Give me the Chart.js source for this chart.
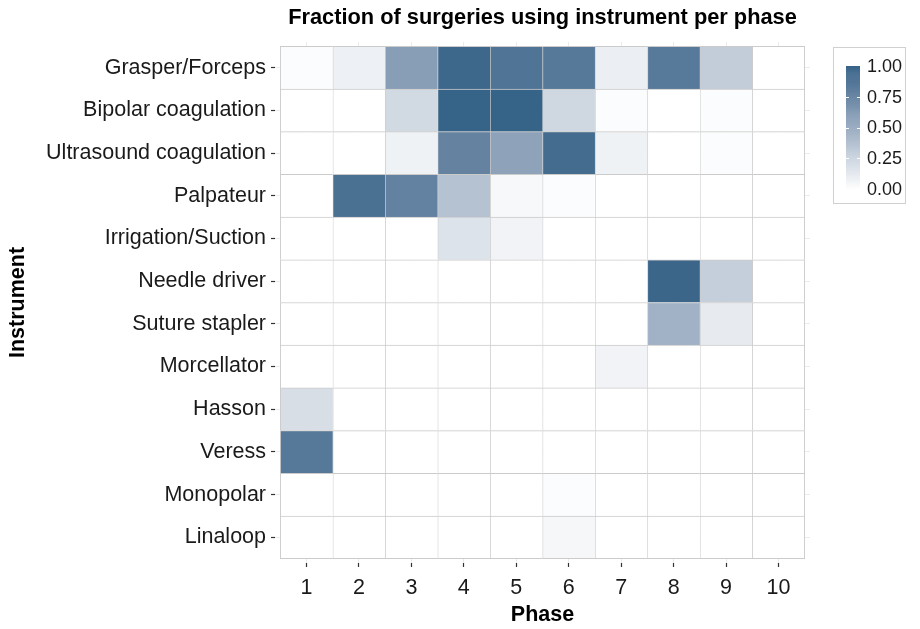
<!DOCTYPE html>
<html>
<head>
<meta charset="utf-8">
<script src="https://cdn.jsdelivr.net/npm/chart.js@4.4.1/dist/chart.umd.min.js"></script>
<style>
  html, body { margin: 0; padding: 0; background: #ffffff; }
  #wrap { width: 920px; height: 629px; position: relative; }
</style>
</head>
<body>
<div id="wrap"><canvas id="c" width="920" height="629"></canvas></div>
<script>
// ---------------- data ----------------
const chartTitle = 'Fraction of surgeries using instrument per phase';
const phases = [1, 2, 3, 4, 5, 6, 7, 8, 9, 10];
const instruments = [
  'Grasper/Forceps', 'Bipolar coagulation', 'Ultrasound coagulation', 'Palpateur',
  'Irrigation/Suction', 'Needle driver', 'Suture stapler', 'Morcellator',
  'Hasson', 'Veress', 'Monopolar', 'Linaloop'
];
// fraction of surgeries using the instrument, per phase 1..10
const grasperForceps        = [0.02, 0.09, 0.60, 0.97, 0.88, 0.85, 0.10, 0.84, 0.30, 0.00];
const bipolarCoagulation    = [0.00, 0.00, 0.23, 1.00, 1.00, 0.24, 0.02, 0.00, 0.02, 0.00];
const ultrasoundCoagulation = [0.00, 0.00, 0.08, 0.78, 0.57, 0.94, 0.08, 0.00, 0.02, 0.00];
const palpateur             = [0.00, 0.91, 0.79, 0.37, 0.04, 0.02, 0.00, 0.00, 0.00, 0.00];
const irrigationSuction     = [0.00, 0.00, 0.00, 0.17, 0.07, 0.00, 0.00, 0.00, 0.00, 0.00];
const needleDriver          = [0.00, 0.00, 0.00, 0.00, 0.00, 0.00, 0.00, 0.98, 0.29, 0.00];
const sutureStapler         = [0.00, 0.00, 0.00, 0.00, 0.00, 0.00, 0.00, 0.47, 0.12, 0.00];
const morcellator           = [0.00, 0.00, 0.00, 0.00, 0.00, 0.00, 0.07, 0.00, 0.00, 0.00];
const hasson                = [0.20, 0.00, 0.00, 0.00, 0.00, 0.00, 0.00, 0.00, 0.00, 0.00];
const veress                = [0.85, 0.00, 0.00, 0.00, 0.00, 0.00, 0.00, 0.00, 0.00, 0.00];
const monopolar             = [0.00, 0.00, 0.00, 0.00, 0.00, 0.02, 0.00, 0.00, 0.00, 0.00];
const linaloop              = [0.00, 0.00, 0.00, 0.00, 0.00, 0.05, 0.00, 0.00, 0.00, 0.00];
const legendTicks = [0, 0.25, 0.5, 0.75, 1];

const fractions = [
  grasperForceps, bipolarCoagulation, ultrasoundCoagulation, palpateur,
  irrigationSuction, needleDriver, sutureStapler, morcellator,
  hasson, veress, monopolar, linaloop
];

// ---------------- colour scale (Lab interpolation, like ggplot) ----------------
const LOW = '#ffffff', HIGH = '#366388';
function hexToRgb(h) { return [1,3,5].map(i => parseInt(h.substr(i, 2), 16)); }
function srgbToLin(c) { c /= 255; return c <= 0.04045 ? c / 12.92 : Math.pow((c + 0.055) / 1.055, 2.4); }
function linToSrgb(c) { c = c <= 0.0031308 ? 12.92 * c : 1.055 * Math.pow(c, 1 / 2.4) - 0.055; return Math.max(0, Math.min(255, Math.round(c * 255))); }
const Xn = 0.95047, Yn = 1.0, Zn = 1.08883;
function f(t) { return t > 216 / 24389 ? Math.cbrt(t) : (24389 / 27 * t + 16) / 116; }
function finv(t) { const t3 = t * t * t; return t3 > 216 / 24389 ? t3 : (116 * t - 16) / (24389 / 27); }
function rgbToLab(rgb) {
  const [r, g, b] = rgb.map(srgbToLin);
  const X = 0.4124 * r + 0.3576 * g + 0.1805 * b;
  const Y = 0.2126 * r + 0.7152 * g + 0.0722 * b;
  const Z = 0.0193 * r + 0.1192 * g + 0.9505 * b;
  const fx = f(X / Xn), fy = f(Y / Yn), fz = f(Z / Zn);
  return [116 * fy - 16, 500 * (fx - fy), 200 * (fy - fz)];
}
function labToRgb(lab) {
  const fy = (lab[0] + 16) / 116, fx = fy + lab[1] / 500, fz = fy - lab[2] / 200;
  const X = finv(fx) * Xn, Y = finv(fy) * Yn, Z = finv(fz) * Zn;
  const r = 3.2406 * X - 1.5372 * Y - 0.4986 * Z;
  const g = -0.9689 * X + 1.8758 * Y + 0.0415 * Z;
  const b = 0.0557 * X - 0.2040 * Y + 1.0570 * Z;
  return [linToSrgb(r), linToSrgb(g), linToSrgb(b)];
}
const labLow = rgbToLab(hexToRgb(LOW)), labHigh = rgbToLab(hexToRgb(HIGH));
function fillColor(v) {
  const lab = labLow.map((l, i) => l + (labHigh[i] - l) * v);
  const c = labToRgb(lab);
  return 'rgb(' + c.join(',') + ')';
}

// ---------------- datasets: one per phase, floating bars spanning the tile ----------------
const lastPhase = phases.length - 1, lastRow = instruments.length - 1;
const datasets = phases.map((p, pi) => ({
  label: 'Phase ' + p,
  data: instruments.map((name, i) => ({ y: i + 1, x: [p - 0.5, p + 0.5] })),
  backgroundColor: instruments.map((name, i) => fillColor(fractions[i][pi])),
  borderColor: '#cbcbcb',
  borderWidth: (ctx) => ({
    left: 1, top: 1,
    right: ctx.datasetIndex === lastPhase ? 1 : 0,
    bottom: ctx.dataIndex === lastRow ? 1 : 0
  }),
  borderSkipped: false,
  grouped: false,
  barPercentage: 1,
  categoryPercentage: 1
}));

const FONT = '"Liberation Sans", Arial, Helvetica, sans-serif';
const TEXT = '#1a1a1a';

const bgPlugin = {
  id: 'bg',
  beforeDraw(chart) {
    const ctx = chart.ctx;
    ctx.save(); ctx.fillStyle = '#ffffff'; ctx.fillRect(0, 0, chart.width, chart.height); ctx.restore();
  }
};

const decorPlugin = {
  id: 'decor',
  afterDraw(chart) {
    const ctx = chart.ctx, ca = chart.chartArea;
    ctx.save();
    // title centred over the panel
    ctx.fillStyle = '#000000';
    ctx.font = 'bold 21.8px ' + FONT;
    ctx.textAlign = 'center';
    ctx.textBaseline = 'middle';
    ctx.fillText(chartTitle, (ca.left + ca.right) / 2, 18);

    // colour bar legend
    const boxX = 833.5, boxY = 47.5, boxW = 72, boxH = 156;
    ctx.strokeStyle = '#d0d0d0';
    ctx.lineWidth = 1;
    ctx.strokeRect(boxX, boxY, boxW, boxH);
    const barX = 846, barW = 14, barTop = 66, barBot = 189;
    const steps = 120;
    for (let s = 0; s < steps; s++) {
      const v0 = s / steps;
      const y0 = barBot - (barBot - barTop) * (s + 1) / steps;
      ctx.fillStyle = fillColor(v0 + 0.5 / steps);
      ctx.fillRect(barX, y0, barW, (barBot - barTop) / steps + 0.6);
    }
    ctx.font = '18px ' + FONT;
    ctx.textAlign = 'left';
    ctx.textBaseline = 'middle';
    legendTicks.forEach(v => {
      const y = barBot - (barBot - barTop) * v;
      ctx.fillStyle = TEXT;
      ctx.fillText(v.toFixed(2), 867, y + 1);
      if (v > 0 && v < 1) {
        ctx.strokeStyle = '#ffffff';
        ctx.lineWidth = 1;
        ctx.beginPath();
        ctx.moveTo(barX, Math.round(y) + 0.5); ctx.lineTo(barX + 3, Math.round(y) + 0.5);
        ctx.moveTo(barX + barW - 3, Math.round(y) + 0.5); ctx.lineTo(barX + barW, Math.round(y) + 0.5);
        ctx.stroke();
      }
    });
    ctx.restore();
  }
};

new Chart(document.getElementById('c'), {
  type: 'bar',
  data: { datasets },
  options: {
    indexAxis: 'y',
    responsive: false,
    animation: false,
    devicePixelRatio: 1,
    layout: { padding: { top: 42, right: 110, bottom: 0, left: 0 } },
    plugins: {
      legend: { display: false },
      tooltip: { enabled: false },
      title: { display: false }
    },
    scales: {
      x: {
        type: 'linear',
        min: 0.4,
        max: 10.6,
        offset: false,
        afterBuildTicks(scale) { scale.ticks = phases.map(v => ({ value: v })); },
        afterFit(scale) { scale.height = 66; },
        border: { display: false },
        grid: { offset: false, color: '#ebebeb', lineWidth: 1, tickColor: '#333333', tickLength: 4, tickWidth: 1.2, drawOnChartArea: true },
        ticks: {
          autoSkip: false, maxRotation: 0, padding: 8,
          color: TEXT, font: { family: FONT, size: 21.5 },
          callback: (v) => String(v)
        },
        title: { display: true, text: 'Phase', color: '#000000', font: { family: FONT, size: 21.5, weight: 'bold' }, padding: { top: 0, bottom: 1 } }
      },
      y: {
        type: 'linear',
        reverse: true,
        min: 0.4,
        max: 12.6,
        offset: false,
        afterBuildTicks(scale) { scale.ticks = instruments.map((n, i) => ({ value: i + 1 })); },
        afterFit(scale) { scale.width = 275; },
        border: { display: false },
        grid: { offset: false, color: '#ebebeb', lineWidth: 1, tickColor: '#333333', tickLength: 4, tickWidth: 1.2, drawOnChartArea: true },
        ticks: {
          autoSkip: false, padding: 5,
          color: TEXT, font: { family: FONT, size: 21.5 },
          callback: (v) => instruments[v - 1]
        },
        title: { display: true, text: 'Instrument', color: '#000000', font: { family: FONT, size: 21.5, weight: 'bold' }, padding: { top: 5, bottom: 0 } }
      }
    }
  },
  plugins: [bgPlugin, decorPlugin]
});
</script>
</body>
</html>
